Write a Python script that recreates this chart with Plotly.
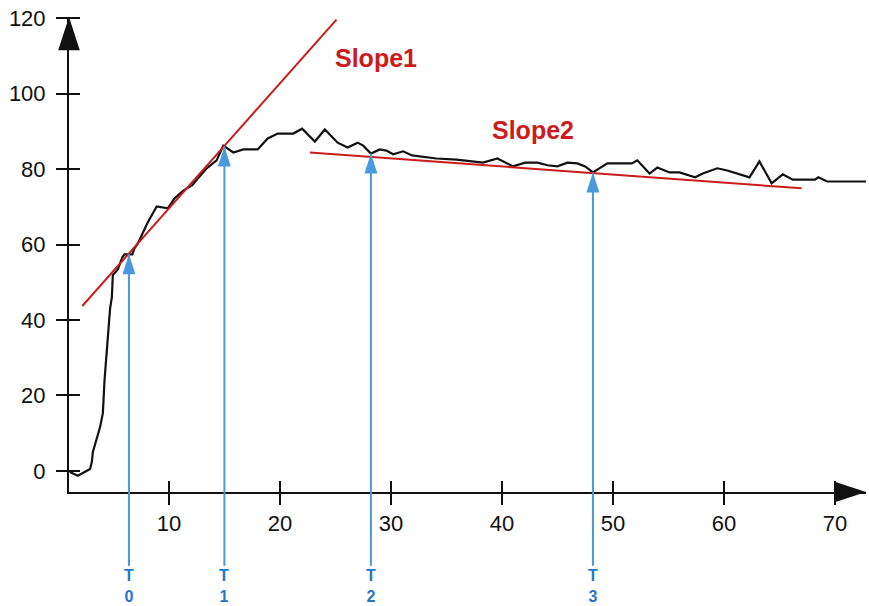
import numpy as np
import plotly.graph_objects as go

# ---- data ----
time = [1.08, 1.8, 2.9, 3.06, 3.15, 3.5, 3.8, 4.05, 4.2, 4.7, 4.86, 4.95, 5.4, 5.8, 6.0,
        6.7, 6.9, 7.2, 7.6, 8.1, 8.9, 9.9, 10.5, 11.3, 12.1, 12.8, 13.4, 14.3, 14.9, 15.8,
        16.7, 18.0, 18.9, 19.8, 21.2, 22.0, 23.15, 24.05, 25.2, 26.1, 27.0, 27.5, 28.2,
        29.0, 29.6, 30.2, 31.1, 31.9, 34.1, 35.9, 37.8, 38.3, 39.6, 40.5, 41.0, 42.1, 43.2,
        44.1, 45.0, 45.9, 46.8, 47.5, 48.2, 49.5, 51.7, 52.2, 53.3, 54.0, 55.1, 56.0, 57.4,
        58.1, 59.4, 60.3, 61.4, 62.3, 63.2, 64.3, 65.3, 66.2, 68.2, 68.5, 69.3, 72.8]
response = [-0.3, -1.3, 0.5, 2.4, 5.0, 8.7, 11.6, 15.3, 24.0, 43.0, 46.0, 51.9, 53.4, 56.6, 57.4,
            57.4, 59.0, 60.3, 63.0, 65.9, 70.1, 69.6, 72.2, 74.3, 75.7, 78.0, 80.2, 82.3, 86.2, 84.4,
            85.2, 85.2, 88.1, 89.4, 89.4, 90.7, 87.3, 90.5, 87.0, 85.7, 87.0, 86.2, 84.1,
            85.2, 84.9, 83.9, 84.7, 83.6, 82.8, 82.5, 82.0, 81.7, 82.8, 81.5, 80.7, 81.7, 81.7,
            81.0, 80.7, 81.7, 81.5, 80.7, 79.1, 81.5, 81.5, 82.3, 78.8, 80.4, 79.1, 79.1, 77.8,
            78.8, 80.2, 79.6, 78.6, 77.8, 82.0, 76.2, 78.6, 77.2, 77.2, 77.8, 76.7, 76.7]

slope1_x = [2.2, 25.1]
slope1_y = [43.7, 119.6]
slope2_x = [22.7, 67.0]
slope2_y = [84.4, 74.9]

t_names = ["0", "1", "2", "3"]
t_times = [6.4, 15.0, 28.2, 48.2]

x_ticks = [10, 20, 30, 40, 50, 60, 70]
y_ticks = [0, 20, 40, 60, 80, 100, 120]

x_range = [1.0, 72.8]
y_range = [-5.6, 120.3]

# ---- styles ----
BLACK = "#111111"
RED = "#cc1b1b"
BLUE_LINE = "#4a98de"
BLUE_TEXT = "#2476cc"
TICK_FONT = dict(family="Liberation Sans, Arial, sans-serif", size=22, color=BLACK)

fig = go.Figure()

fig.add_trace(go.Scatter(x=time, y=response, mode="lines",
                         line=dict(color=BLACK, width=2.2), hoverinfo="skip"))
fig.add_trace(go.Scatter(x=slope1_x, y=slope1_y, mode="lines",
                         line=dict(color=RED, width=2), hoverinfo="skip"))
fig.add_trace(go.Scatter(x=slope2_x, y=slope2_y, mode="lines",
                         line=dict(color=RED, width=2), hoverinfo="skip"))

# arrow heads at the curve for each T marker
t_heads = list(np.interp(t_times, time, response))
fig.add_trace(go.Scatter(x=t_times, y=t_heads, mode="markers", cliponaxis=False,
                         marker=dict(symbol="arrow", size=21, color=BLUE_LINE,
                                     line=dict(width=0)),
                         hoverinfo="skip"))

# axis arrow heads
fig.add_trace(go.Scatter(x=[x_range[1]], y=[y_range[0]], mode="markers", cliponaxis=False,
                         marker=dict(symbol="arrow", size=32, angle=90, color=BLACK,
                                     line=dict(width=0)),
                         hoverinfo="skip"))
fig.add_trace(go.Scatter(x=[x_range[0]], y=[y_range[1]], mode="markers", cliponaxis=False,
                         marker=dict(symbol="arrow", size=35, color=BLACK,
                                     line=dict(width=0)),
                         hoverinfo="skip"))

# dummy trace for the overlay axes (inside half of crossing ticks)
fig.add_trace(go.Scatter(x=x_range, y=y_range, xaxis="x2", yaxis="y2", mode="markers",
                         marker=dict(opacity=0), hoverinfo="skip"))

# T annotations: label at tail, line up to the curve
for name, t, h in zip(t_names, t_times, t_heads):
    fig.add_annotation(x=t, y=h, xref="x", yref="y",
                       ax=t, ay=-30.6, axref="x", ayref="y",
                       text="T<br>" + name, showarrow=True, arrowhead=0,
                       arrowwidth=2, arrowcolor=BLUE_LINE, standoff=0, startstandoff=0,
                       font=dict(family="Liberation Sans, Arial, sans-serif", size=16,
                                 color=BLUE_TEXT, weight="bold"))

fig.add_annotation(x=28.65, y=109.5, xref="x", yref="y", text="<b>Slope1</b>", showarrow=False,
                   font=dict(family="Liberation Sans, Arial, sans-serif", size=25, color=RED))
fig.add_annotation(x=42.8, y=90.4, xref="x", yref="y", text="<b>Slope2</b>", showarrow=False,
                   font=dict(family="Liberation Sans, Arial, sans-serif", size=25, color=RED))

axis_common = dict(showgrid=False, zeroline=False, ticklen=11, tickwidth=2, tickcolor=BLACK,
                   automargin=False)

fig.update_layout(
    width=869, height=606,
    margin=dict(l=69, r=3, t=17, b=114, autoexpand=False),
    paper_bgcolor="white", plot_bgcolor="white",
    showlegend=False,
    xaxis=dict(range=x_range, tickvals=x_ticks, ticktext=[str(v) for v in x_ticks],
               ticks="outside", showline=True, linecolor=BLACK, linewidth=2,
               tickfont=TICK_FONT, ticklabelstandoff=0, **axis_common),
    yaxis=dict(range=y_range, tickvals=y_ticks, ticktext=[str(v) for v in y_ticks],
               ticks="outside", showline=True, linecolor=BLACK, linewidth=2,
               tickfont=TICK_FONT, ticklabelstandoff=6, **axis_common),
    xaxis2=dict(range=x_range, tickvals=x_ticks, ticks="inside", showticklabels=False,
                showline=False, overlaying="x", anchor="y2", side="bottom", **axis_common),
    yaxis2=dict(range=y_range, tickvals=y_ticks, ticks="inside", showticklabels=False,
                showline=False, overlaying="y", anchor="x2", side="left", **axis_common),
)

fig.write_html("out.html", config={"displayModeBar": False, "staticPlot": True},
               post_script="document.body.style.margin='0';document.body.style.overflow='hidden';")
